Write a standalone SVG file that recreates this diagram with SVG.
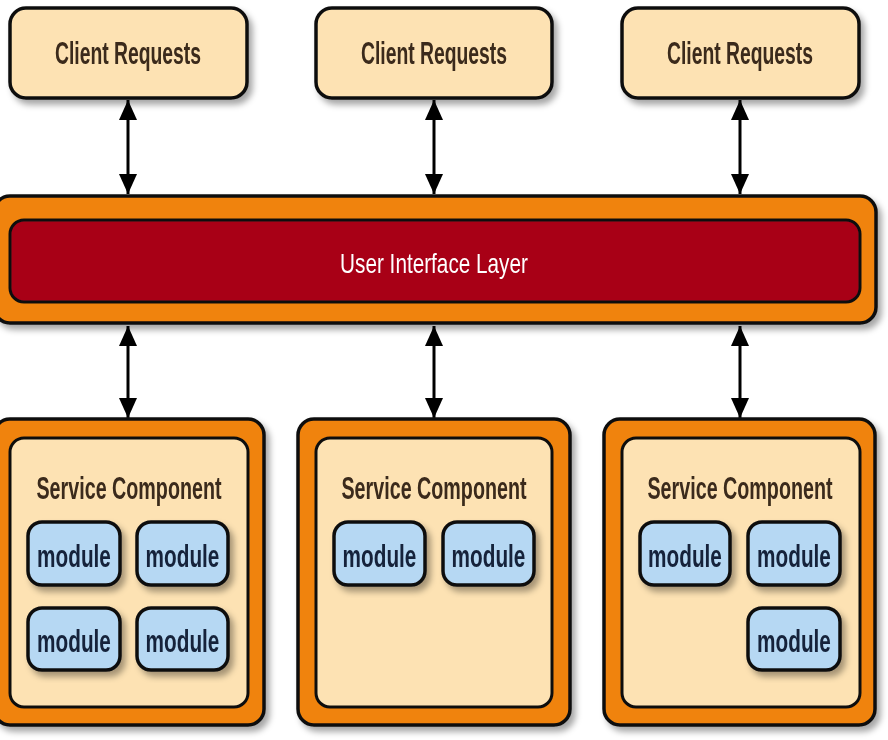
<svg xmlns="http://www.w3.org/2000/svg" width="888" height="740" viewBox="0 0 888 740">
<defs>
<filter id="sh" x="-10%" y="-10%" width="130%" height="130%">
<feDropShadow dx="4" dy="5" stdDeviation="3" flood-color="#000" flood-opacity="0.35"/>
</filter>
<marker id="ah" viewBox="0 0 20 20" refX="20" refY="10" markerWidth="20" markerHeight="20" markerUnits="userSpaceOnUse" orient="auto-start-reverse">
<path d="M0,1 L20,10 L0,19 Z" fill="#000"/>
</marker>
<style>
.req{fill:#fde2b3;stroke:#111;stroke-width:3.5}
.outer{fill:#f08308;stroke:#111;stroke-width:3.5}
.inner{fill:#fde2b3;stroke:#111;stroke-width:3}
.ui{fill:#a80018;stroke:#111;stroke-width:3}
.mod{fill:#b6d8f3;stroke:#111;stroke-width:3.5}
.t{font-family:"Liberation Sans",Arial,sans-serif;text-anchor:middle;font-weight:bold}
.tr{font-size:31px;fill:#3a2a1a}
.tm{font-size:31px;fill:#14243a}
.tu{font-size:28px;fill:#fff;font-weight:normal}
.con{stroke:#000;stroke-width:3;fill:none;marker-start:url(#ah);marker-end:url(#ah)}
</style>
</defs>
<rect width="888" height="740" fill="#fff"/>

<g id="connectors">
<line class="con" x1="128" y1="100" x2="128" y2="194"/>
<line class="con" x1="434" y1="100" x2="434" y2="194"/>
<line class="con" x1="740" y1="100" x2="740" y2="194"/>
<line class="con" x1="128" y1="326" x2="128" y2="418"/>
<line class="con" x1="434" y1="326" x2="434" y2="418"/>
<line class="con" x1="740" y1="326" x2="740" y2="418"/>
</g>

<g id="client1" filter="url(#sh)">
<rect class="req" x="10" y="8" width="237" height="90" rx="16"/>
<text class="t tr" transform="translate(128,64) scale(0.624,1)">Client Requests</text>
</g>
<g id="client2" filter="url(#sh)">
<rect class="req" x="316" y="8" width="236" height="90" rx="16"/>
<text class="t tr" transform="translate(434,64) scale(0.624,1)">Client Requests</text>
</g>
<g id="client3" filter="url(#sh)">
<rect class="req" x="622" y="8" width="237" height="90" rx="16"/>
<text class="t tr" transform="translate(740,64) scale(0.624,1)">Client Requests</text>
</g>

<g id="ui-layer" filter="url(#sh)">
<rect class="outer" x="-6" y="196" width="882" height="127" rx="16"/>
<rect class="ui" x="10" y="220" width="850" height="82" rx="14"/>
<text class="t tu" transform="translate(434,273) scale(0.741,1)">User Interface Layer</text>
</g>

<g id="service1" filter="url(#sh)">
<rect class="outer" x="-6" y="419" width="270" height="306" rx="16"/>
<rect class="inner" x="10" y="438" width="238" height="269" rx="14"/>
<text class="t tr" transform="translate(129,499) scale(0.636,1)">Service Component</text>
</g>
<g id="s1m1" filter="url(#sh)"><rect class="mod" x="28" y="522" width="92" height="63" rx="14"/><text class="t tm" transform="translate(74,567) scale(0.67,1)">module</text></g>
<g id="s1m2" filter="url(#sh)"><rect class="mod" x="137" y="522" width="91" height="63" rx="14"/><text class="t tm" transform="translate(182.5,567) scale(0.67,1)">module</text></g>
<g id="s1m3" filter="url(#sh)"><rect class="mod" x="28" y="608" width="92" height="62" rx="14"/><text class="t tm" transform="translate(74,652) scale(0.67,1)">module</text></g>
<g id="s1m4" filter="url(#sh)"><rect class="mod" x="137" y="608" width="91" height="62" rx="14"/><text class="t tm" transform="translate(182.5,652) scale(0.67,1)">module</text></g>

<g id="service2" filter="url(#sh)">
<rect class="outer" x="298" y="419" width="272" height="306" rx="16"/>
<rect class="inner" x="316" y="438" width="236" height="269" rx="14"/>
<text class="t tr" transform="translate(434,499) scale(0.636,1)">Service Component</text>
</g>
<g id="s2m1" filter="url(#sh)"><rect class="mod" x="334" y="522" width="91" height="63" rx="14"/><text class="t tm" transform="translate(379.5,567) scale(0.67,1)">module</text></g>
<g id="s2m2" filter="url(#sh)"><rect class="mod" x="443" y="522" width="91" height="63" rx="14"/><text class="t tm" transform="translate(488.5,567) scale(0.67,1)">module</text></g>

<g id="service3" filter="url(#sh)">
<rect class="outer" x="604" y="419" width="271" height="306" rx="16"/>
<rect class="inner" x="622" y="438" width="238" height="269" rx="14"/>
<text class="t tr" transform="translate(740,499) scale(0.636,1)">Service Component</text>
</g>
<g id="s3m1" filter="url(#sh)"><rect class="mod" x="640" y="522" width="90" height="63" rx="14"/><text class="t tm" transform="translate(685,567) scale(0.67,1)">module</text></g>
<g id="s3m2" filter="url(#sh)"><rect class="mod" x="748" y="522" width="92" height="63" rx="14"/><text class="t tm" transform="translate(794,567) scale(0.67,1)">module</text></g>
<g id="s3m3" filter="url(#sh)"><rect class="mod" x="748" y="608" width="92" height="62" rx="14"/><text class="t tm" transform="translate(794,652) scale(0.67,1)">module</text></g>
</svg>
